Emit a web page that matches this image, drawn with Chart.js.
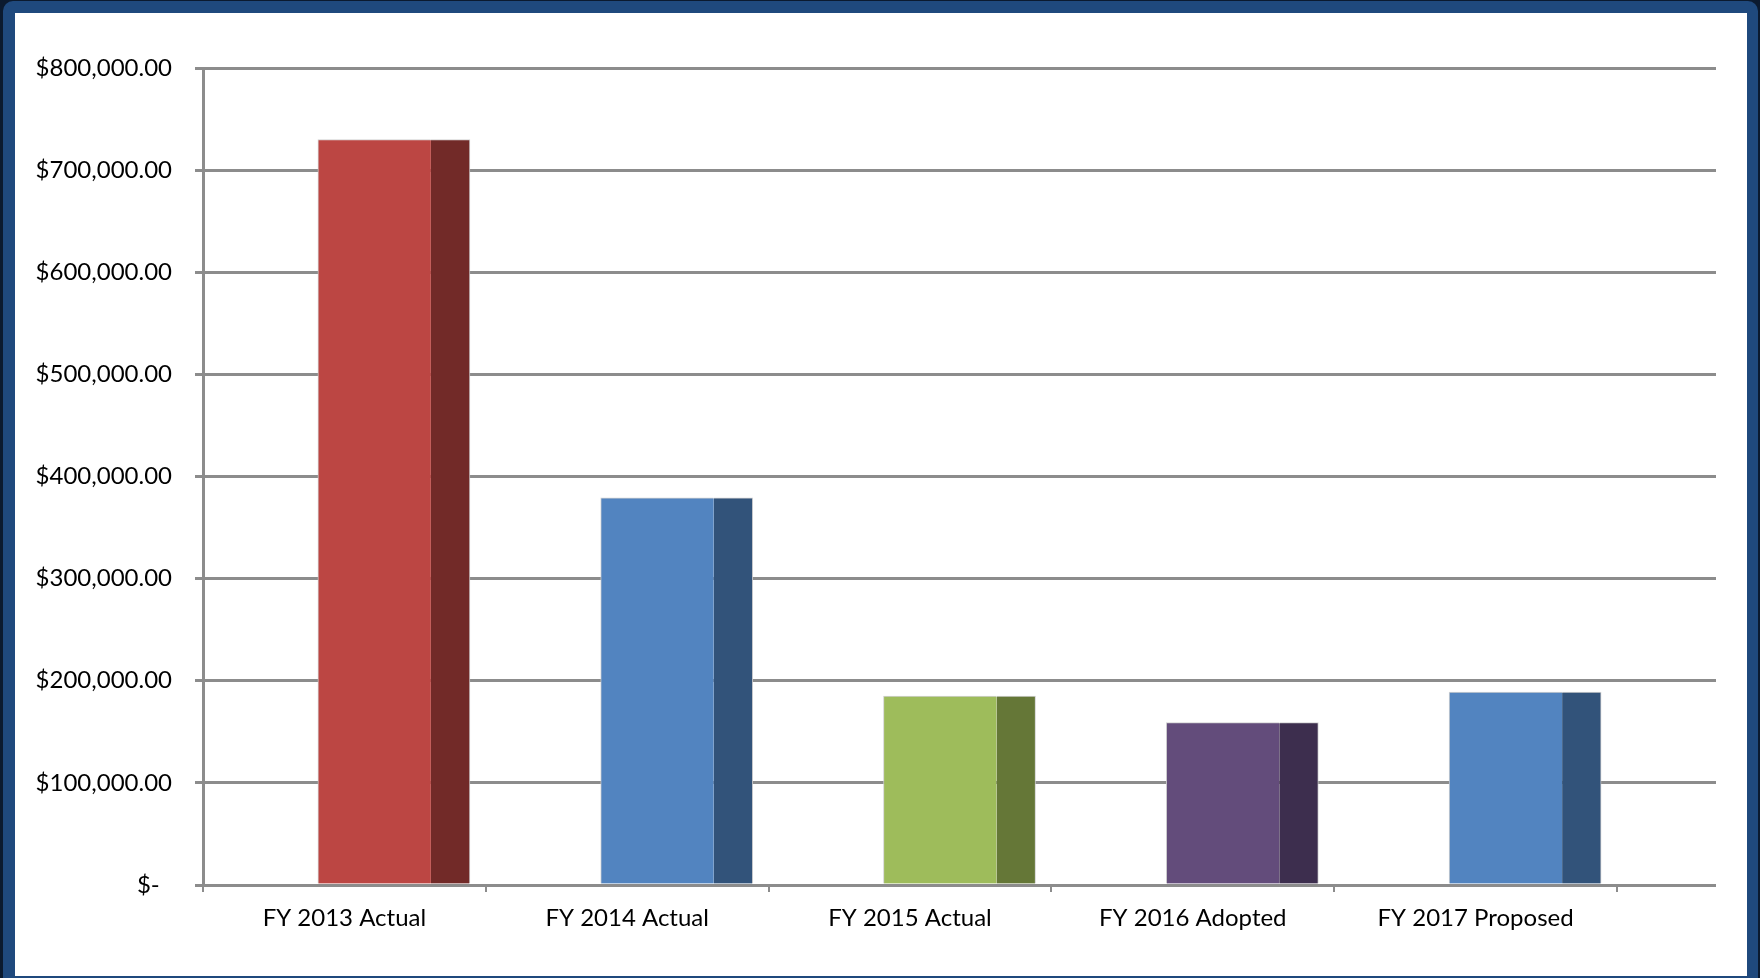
<!DOCTYPE html>
<html>
<head>
<meta charset="utf-8">
<title>Budget by fiscal year</title>
<script src="https://cdn.jsdelivr.net/npm/chart.js@4.4.1/dist/chart.umd.min.js"></script>
<style>
  html, body { margin: 0; padding: 0; }
  body { width: 1760px; height: 978px; overflow: hidden; position: relative; background: #0b1a2f; }
  .frame { position: absolute; left: 3px; top: 1px; right: 2px; bottom: -20px; background: #1f497d; border-radius: 10px; }
  .sheet { position: absolute; left: 15px; top: 13px; width: 1732px; height: 963px; background: #fff; }
  #budget-chart { position: absolute; left: 0; top: 0; }
</style>
</head>
<body>
<div class="frame"></div>
<div class="sheet"></div>
<canvas id="budget-chart" width="1760" height="978"></canvas>
<script>
const categories = ['FY 2013 Actual', 'FY 2014 Actual', 'FY 2015 Actual', 'FY 2016 Adopted', 'FY 2017 Proposed']
const amounts = [730000, 379000, 185000, 159000, 189000]
const yTicks = [0, 100000, 200000, 300000, 400000, 500000, 600000, 700000, 800000]

const faceColors = ['#bc4643', '#5284c0', '#9ebc5b', '#634c7b', '#5284c0']
const sideColors = ['#722a28', '#32537a', '#657737', '#3d2e4e', '#32537a']
const gridColor = '#8c8c8c'
const gridWidth = 3

// columns are drawn as a lit front face plus a darker side face, nudged right of the category centre
const FACE_SHIFT = 0.106
const SIDE_SHIFT = 0.375

const money = new Intl.NumberFormat('en-US', { minimumFractionDigits: 2, maximumFractionDigits: 2 })
const formatTick = (v) => v === 0 ? '$-  ' : '$' + money.format(v)

Chart.defaults.font.family = 'Lato, "Open Sans", sans-serif'
Chart.defaults.font.size = 24
Chart.defaults.color = '#000'

// gridlines run on past the last category, across the back wall
const backWall = {
  id: 'backWall',
  beforeDatasetsDraw (chart) {
    const { ctx, chartArea, scales } = chart
    const y = scales.y
    const half = gridWidth / 2
    ctx.save()
    ctx.strokeStyle = gridColor
    ctx.lineWidth = gridWidth
    y.ticks.forEach(t => {
      const py = Math.round(y.getPixelForValue(t.value) - half) + half
      ctx.beginPath()
      ctx.moveTo(chartArea.right - 2, py)
      ctx.lineTo(chartArea.right + 99, py)
      ctx.stroke()
    })
    ctx.restore()
  }
}

const ctx = document.getElementById('budget-chart').getContext('2d')

const chart = new Chart(ctx, {
  type: 'bar',
  data: {
    labels: categories,
    datasets: [
      {
        data: amounts.map((v, i) => ({ x: i + FACE_SHIFT, y: v })),
        backgroundColor: faceColors,
        borderColor: 'rgba(205,205,205,0.9)',
        borderWidth: { top: 1, left: 1, right: 0, bottom: 0 },
        borderSkipped: false,
        barThickness: 113,
        grouped: false,
        xAxisID: 'xb'
      },
      {
        data: amounts.map((v, i) => ({ x: i + SIDE_SHIFT, y: v })),
        backgroundColor: sideColors,
        borderColor: 'rgba(205,205,205,0.9)',
        borderWidth: { top: 1, right: 1, left: 0, bottom: 0 },
        borderSkipped: false,
        barThickness: 39,
        grouped: false,
        xAxisID: 'xb'
      }
    ]
  },
  options: {
    responsive: false,
    animation: false,
    events: [],
    layout: { padding: { left: 0, top: 68, right: 143, bottom: 0 } },
    plugins: {
      legend: { display: false },
      tooltip: { enabled: false }
    },
    scales: {
      x: {
        type: 'category',
        offset: true,
        grid: {
          offset: true,
          drawOnChartArea: false,
          tickLength: 7,
          tickColor: gridColor,
          lineWidth: 2
        },
        border: { display: true, color: gridColor, width: gridWidth },
        ticks: { padding: 12, maxRotation: 0, autoSkip: false },
        afterFit: (scale) => { scale.height = 93 }
      },
      xb: {
        type: 'linear',
        display: false,
        offset: false,
        bounds: 'data',
        min: -0.5,
        max: 4.5
      },
      y: {
        min: 0,
        max: 800000,
        afterBuildTicks: (scale) => { scale.ticks = yTicks.map(v => ({ value: v })) },
        grid: {
          color: gridColor,
          lineWidth: gridWidth,
          tickLength: 8,
          tickColor: gridColor
        },
        border: { display: true, color: gridColor, width: gridWidth },
        ticks: { padding: 23, callback: formatTick },
        afterFit: (scale) => { scale.width = 203 }
      }
    }
  },
  plugins: [backWall]
})
</script>
</body>
</html>
